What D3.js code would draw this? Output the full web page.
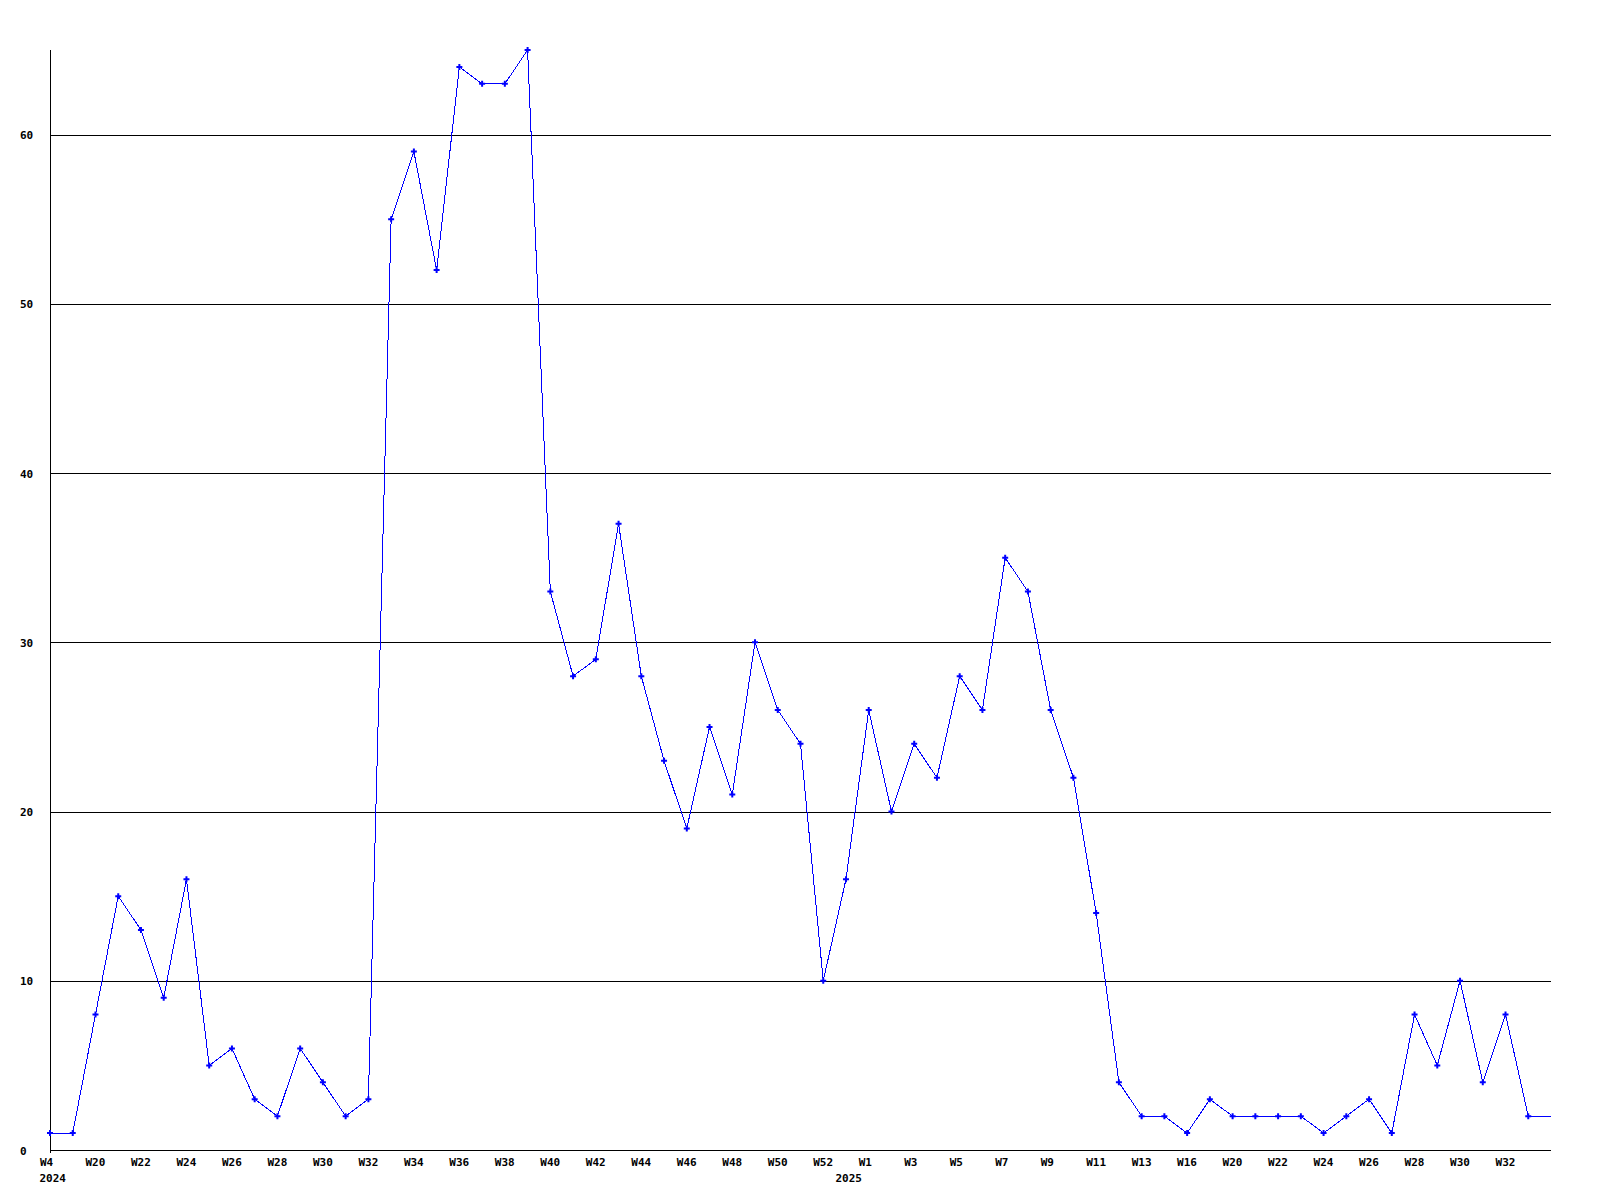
<!DOCTYPE html>
<html>
<head>
<meta charset="utf-8">
<script src="https://cdn.jsdelivr.net/npm/d3@7"></script>
<style>
  html, body { margin: 0; padding: 0; background: #fff; }
  svg { display: block; }
  text { font-family: "DejaVu Sans Mono", "Liberation Mono", monospace; font-weight: bold; font-size: 11px; fill: #000; }
</style>
</head>
<body>
<svg id="chart" width="1600" height="1200"></svg>
<script>
// Weekly values, one per point (index 0 .. 66)
const values = [
  1, 1, 8, 15, 13, 9, 16, 5, 6, 3,
  2, 6, 4, 2, 3, 55, 59, 52, 64, 63,
  63, 65, 33, 28, 29, 37, 28, 23, 19, 25,
  21, 30, 26, 24, 10, 16, 26, 20, 24, 22,
  28, 26, 35, 33, 26, 22, 14, 4, 2, 2,
  1, 3, 2, 2, 2, 2, 1, 2, 3, 1,
  8, 5, 10, 4, 8, 2, 2
];
// X tick labels, placed on every second point starting at index 0
const xTickLabels = [
  "W4", "W20", "W22", "W24", "W26", "W28", "W30", "W32", "W34", "W36",
  "W38", "W40", "W42", "W44", "W46", "W48", "W50", "W52", "W1", "W3",
  "W5", "W7", "W9", "W11", "W13", "W16", "W20", "W22", "W24", "W26",
  "W28", "W30", "W32"
];
// Year labels and the point index where each year begins
const yearLabels = ["2024", "2025"];
const yearStartIndex = [0, 35];
// Y ticks
const yTicks = [0, 10, 20, 30, 40, 50, 60];
const yMax = 65;

const mLeft = 50, mRight = 1551, mTop = 50, mBottom = 1150;
const svg = d3.select("#chart");

const x = d3.scaleLinear().domain([0, values.length - 1]).range([mLeft, mRight]);
const y = d3.scaleLinear().domain([0, yMax]).range([mBottom, mTop]);

// Y grid + labels via axis
const yAxis = d3.axisLeft(y)
  .tickValues(yTicks)
  .tickSizeInner(-(mRight - mLeft))
  .tickSizeOuter(0)
  .tickFormat(d3.format("d"));
const gy = svg.append("g")
  .attr("transform", `translate(${mLeft},0)`)
  .call(yAxis);
gy.select(".domain").remove();
gy.attr("font-family", null).attr("font-size", null);
gy.selectAll(".tick line")
  .attr("stroke", "#000")
  .attr("shape-rendering", "crispEdges");
gy.selectAll(".tick text")
  .attr("x", 20 - mLeft)
  .attr("dy", "4")
  .attr("text-anchor", "start");

// X axis labels via axis
const xTickIdx = xTickLabels.map((_, i) => i * 2);
const xAxis = d3.axisBottom(x)
  .tickValues(xTickIdx)
  .tickSize(0)
  .tickFormat((d, i) => xTickLabels[i]);
const gx = svg.append("g")
  .attr("transform", `translate(0,${mBottom})`)
  .call(xAxis);
gx.select(".domain").remove();
gx.attr("font-family", null).attr("font-size", null);
gx.selectAll(".tick text")
  .attr("y", 16)
  .attr("dy", null)
  .attr("dx", -10.5)
  .attr("text-anchor", "start");

// Year labels
svg.append("g").selectAll("text")
  .data(yearLabels)
  .join("text")
  .attr("x", (d, i) => x(yearStartIndex[i]) - 10.5)
  .attr("y", mBottom + 32)
  .text(d => d);

// Axis lines
svg.append("line")
  .attr("x1", mLeft + 0.5).attr("x2", mLeft + 0.5)
  .attr("y1", mTop).attr("y2", mBottom + 3)
  .attr("stroke", "#000").attr("shape-rendering", "crispEdges");
svg.append("line")
  .attr("x1", mLeft).attr("x2", mRight)
  .attr("y1", mBottom + 0.5).attr("y2", mBottom + 0.5)
  .attr("stroke", "#000").attr("shape-rendering", "crispEdges");

// Data line
const line = d3.line()
  .x((d, i) => x(i))
  .y(d => y(d));
svg.append("path")
  .datum(values)
  .attr("d", line)
  .attr("fill", "none")
  .attr("stroke", "#0000ff")
  .attr("stroke-width", 1)
  .attr("shape-rendering", "crispEdges");

// Markers (the last, open-ended point has none)
const sym = d3.symbol().type(d3.symbolCross).size(20);
svg.append("g").selectAll("path")
  .data(values.slice(0, -1))
  .join("path")
  .attr("transform", (d, i) => `translate(${x(i)},${y(d)})`)
  .attr("d", sym)
  .attr("fill", "#0000ff");
</script>
</body>
</html>
